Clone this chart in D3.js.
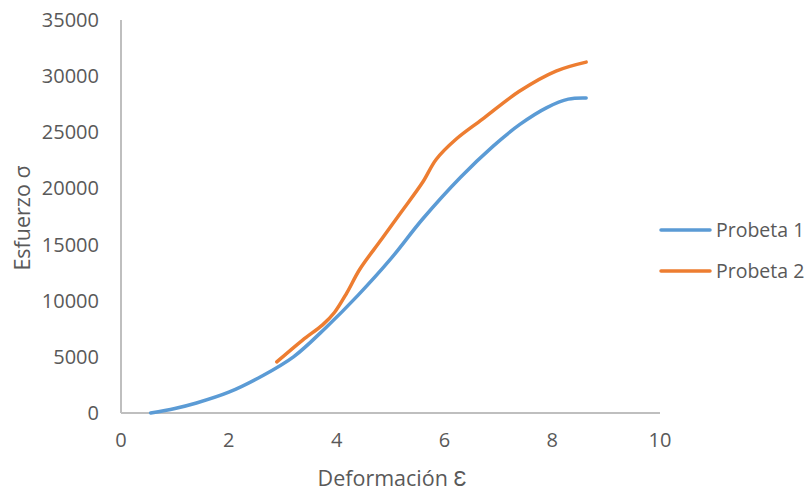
<!DOCTYPE html>
<html>
<head>
<meta charset="utf-8">
<script src="https://cdn.jsdelivr.net/npm/d3@7"></script>
<style>
  body { margin: 0; background: #fff; }
  text { font-family: "Open Sans", sans-serif; fill: #595959; }
</style>
</head>
<body>
<div id="chart"></div>
<script>
var width = 807, height = 493;

// data
var probeta1X = [0.55, 1.0, 1.4, 2.0, 2.6, 3.2, 3.8, 4.4, 5.0, 5.6, 6.3, 6.9, 7.4, 7.9, 8.3, 8.63];
var probeta1Y = [0, 400, 890, 1850, 3250, 5000, 7600, 10500, 13700, 17300, 21000, 23750, 25700, 27200, 27950, 28050];
var probeta2X = [2.89, 3.37, 3.74, 3.96, 4.19, 4.43, 4.83, 5.2, 5.59, 5.85, 6.22, 6.7, 7.39, 8.07, 8.63];
var probeta2Y = [4550, 6500, 7850, 8950, 10700, 12800, 15450, 17900, 20500, 22600, 24400, 26150, 28650, 30450, 31250];
var xTicks = [0, 2, 4, 6, 8, 10];
var yTicks = [0, 5000, 10000, 15000, 20000, 25000, 30000, 35000];
var seriesNames = ["Probeta 1", "Probeta 2"];
var colors = ["#5B9BD5", "#ED7D31"];

var series = [
  probeta1X.map(function(d, i) { return [d, probeta1Y[i]]; }),
  probeta2X.map(function(d, i) { return [d, probeta2Y[i]]; })
];

var svg = d3.select("#chart").append("svg")
  .attr("width", width)
  .attr("height", height);

var x = d3.scaleLinear().domain([0, 10]).range([121, 660]);
var y = d3.scaleLinear().domain([0, 35000]).range([413, 20]);

// axis lines
svg.append("line")
  .attr("x1", x(0)).attr("x2", x(0))
  .attr("y1", y(35000)).attr("y2", y(0))
  .attr("stroke", "#BFBFBF").attr("stroke-width", 2);
svg.append("line")
  .attr("x1", x(0)).attr("x2", x(10))
  .attr("y1", y(0)).attr("y2", y(0))
  .attr("stroke", "#BFBFBF").attr("stroke-width", 2);

// tick labels
svg.selectAll(".ytick").data(yTicks).enter().append("text")
  .attr("class", "ytick")
  .attr("x", 99)
  .attr("y", function(d) { return y(d); })
  .attr("dy", "0.35em")
  .attr("text-anchor", "end")
  .attr("font-size", 20)
  .text(function(d) { return d; });

svg.selectAll(".xtick").data(xTicks).enter().append("text")
  .attr("class", "xtick")
  .attr("x", function(d) { return x(d); })
  .attr("y", 440)
  .attr("dy", "0.35em")
  .attr("text-anchor", "middle")
  .attr("font-size", 20)
  .text(function(d) { return d; });

// axis titles
svg.append("text")
  .attr("x", 392).attr("y", 478)
  .attr("dy", "0.35em")
  .attr("text-anchor", "middle")
  .attr("font-size", 21.5)
  .text("Deformación Ɛ");

svg.append("text")
  .attr("transform", "translate(22,218) rotate(-90)")
  .attr("dy", "0.35em")
  .attr("text-anchor", "middle")
  .attr("font-size", 21.5)
  .text("Esfuerzo σ");

// lines
var line = d3.line()
  .x(function(d) { return x(d[0]); })
  .y(function(d) { return y(d[1]); })
  .curve(d3.curveCatmullRom);

svg.selectAll(".series").data(series).enter().append("path")
  .attr("class", "series")
  .attr("d", line)
  .attr("fill", "none")
  .attr("stroke", function(d, i) { return colors[i]; })
  .attr("stroke-width", 3.5)
  .attr("stroke-linecap", "round");

// legend
var legend = svg.selectAll(".legend").data(seriesNames).enter().append("g")
  .attr("class", "legend")
  .attr("transform", function(d, i) { return "translate(661," + (230 + i * 41) + ")"; });

legend.append("line")
  .attr("x1", 0).attr("x2", 49)
  .attr("stroke", function(d, i) { return colors[i]; })
  .attr("stroke-width", 3.5)
  .attr("stroke-linecap", "round");

legend.append("text")
  .attr("x", 55)
  .attr("dy", "0.35em")
  .attr("font-size", 19.5)
  .text(function(d) { return d; });
</script>
</body>
</html>
